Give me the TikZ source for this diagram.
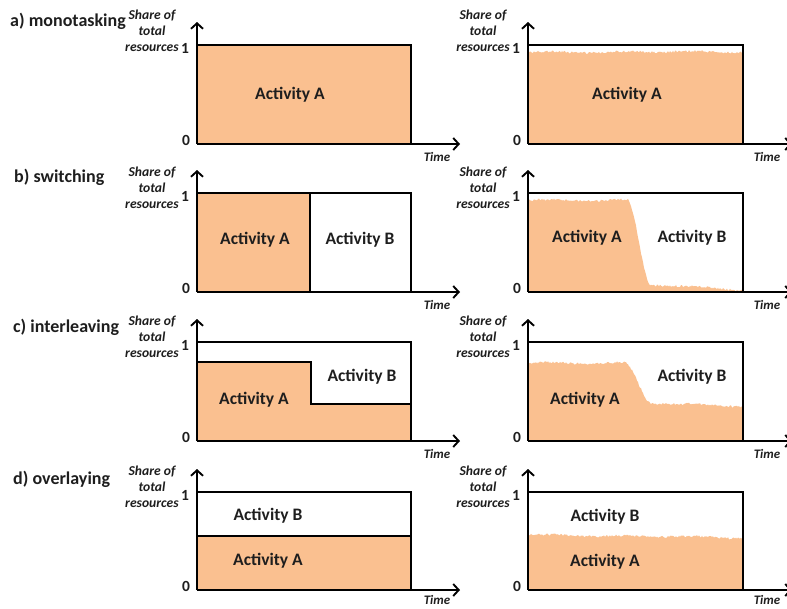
\documentclass[tikz,border=0pt]{standalone}
\usepackage{fontspec}
\setmainfont{Carlito}
\usetikzlibrary{arrows.meta}
\definecolor{actA}{RGB}{250,192,144}
\definecolor{ink}{RGB}{30,30,30}

\begin{document}
\begin{tikzpicture}[x=1pt,y=-1pt,
  frame/.style={draw=black,line width=2pt},
  axis/.style={draw=black,line width=1.9pt,-{Straight Barb[length=5.5pt,width=12pt]}},
  title/.style={font=\fontsize{18}{21}\selectfont\bfseries,text=ink,anchor=west,inner sep=0pt},
  act/.style={font=\fontsize{17.5}{20}\selectfont\bfseries,text=ink,inner sep=0pt},
  ylab/.style={font=\fontsize{13.6}{16}\selectfont\bfseries\itshape,text=ink,align=center,inner sep=0pt},
  tick/.style={font=\fontsize{15.5}{17}\selectfont\bfseries,text=ink,inner sep=0pt},
  tlab/.style={font=\fontsize{13}{15}\selectfont\bfseries\itshape,text=ink,inner sep=0pt},
  declare function={
    clampt(\u,\a,\b)=min(1,max(0,(\u-\a)/(\b-\a)));
    ramp(\u,\a,\b)=clampt(\u,\a,\b)^2*(3-2*clampt(\u,\a,\b));
    fuzz(\u)=1.1*rand+0.6*sin(5*\u+30)+0.4*sin(2*\u);
  }]

\useasboundingbox (0,0) rectangle (787,608);
\pgfmathsetseed{7}

% ---------- scheme titles ----------
\node[title] (ta) at (10,21)  {a) monotasking};
\node[title] (tb) at (14,177) {b) switching};
\node[title] (tc) at (13,327) {c) interleaving};
\node[title] (td) at (13,479) {d) overlaying};

% ---------- idealised shares (left column) ----------
\fill[actA] (197,45) rectangle (411,144);
\fill[actA] (197,193) rectangle (310,292);
\fill[actA] (197,441) -- (197,362) -- (311,362) -- (311,404) -- (411,404) -- (411,441) -- cycle;
\fill[actA] (197,536) rectangle (411,590);

% ---------- observed shares (right column) ----------
\fill[actA] (529,144) -- plot[domain=529:742,samples=214]
  (\x,{144-99*0.93+fuzz(\x)}) -- (742,144) -- cycle;
\fill[actA] (529,292) -- plot[domain=529:742,samples=214]
  (\x,{292-99*(0.93-(0.93-(0.07-0.0005*max(0,\x-650)))*ramp(\x,627,651))+fuzz(\x)}) -- (742,292) -- cycle;
\fill[actA] (529,441) -- plot[domain=529:742,samples=214]
  (\x,{441-99*(0.79-(0.79-(0.38-0.0003*max(0,\x-650)))*ramp(\x,624,652))+fuzz(\x)}) -- (742,441) -- cycle;
\fill[actA] (529,590) -- plot[domain=529:742,samples=214]
  (\x,{590-99*(0.56-0.00015*(\x-528))+fuzz(\x)}) -- (742,590) -- cycle;

% ---------- dividers between the two activities ----------
\draw[frame] (310,193) -- (310,292);
\draw[frame] (197,362) -- (311,362) -- (311,404) -- (411,404);
\draw[frame] (197,536) -- (411,536);

% ---------- frames, axes, ticks and axis titles ----------
\foreach \row/\pt/\pb/\lab/\tdy in {a/45/144/31/13, b/193/292/188/13, c/342/441/337/13, d/492/590/487/10} {
  \foreach \col/\ox/\rx/\lx/\tx in {L/197/411/152/437, R/528/743/483/767} {
    \draw[frame] (\ox,\pt) -- (\rx,\pt) -- (\rx,\pb);
    \coordinate (O-\row\col) at (\ox,\pb);
    \coordinate (Y-\row\col) at (\ox,\pt-23);
    \coordinate (X-\row\col) at (\rx+49,\pb);
    \draw[axis] (O-\row\col) -- (Y-\row\col);
    \draw[axis] (O-\row\col) -- (X-\row\col);
    \node[tick] (one-\row\col)  at (\ox-12,\pt+3) {1};
    \node[tick] (zero-\row\col) at (\ox-11,\pb-4) {0};
    \node[tlab] (time-\row\col) at (\tx,\pb+\tdy) {Time};
    \node[ylab] (share-\row\col) at (\lx,\lab) {Share of\\total\\resources};
  }
}

% ---------- activity labels ----------
\node[act] (aLA) at (290,95)  {Activity A};
\node[act] (aRA) at (627,95)  {Activity A};
\node[act] (bLA) at (255,240) {Activity A};
\node[act] (bLB) at (360,240) {Activity B};
\node[act] (bRA) at (587,238) {Activity A};
\node[act] (bRB) at (692,238) {Activity B};
\node[act] (cLA) at (254,400) {Activity A};
\node[act] (cLB) at (362,377) {Activity B};
\node[act] (cRA) at (585,400) {Activity A};
\node[act] (cRB) at (692,377) {Activity B};
\node[act] (dLB) at (268,516) {Activity B};
\node[act] (dLA) at (268,561) {Activity A};
\node[act] (dRB) at (605,517) {Activity B};
\node[act] (dRA) at (605,562) {Activity A};

\end{tikzpicture}
\end{document}
